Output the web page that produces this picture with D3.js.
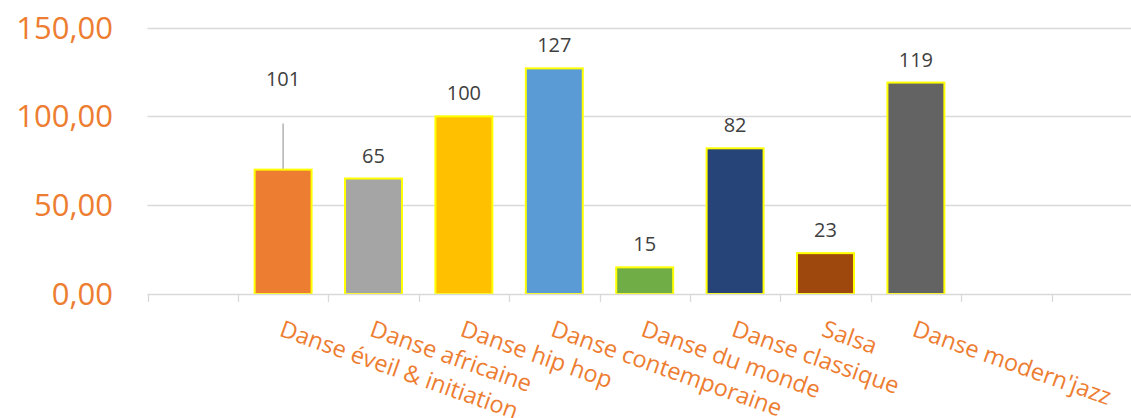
<!DOCTYPE html>
<html>
<head>
<meta charset="utf-8">
<script src="https://cdn.jsdelivr.net/npm/d3@7"></script>
<style>
  html, body { margin: 0; padding: 0; background: #fff; }
  svg { display: block; font-family: "Open Sans", sans-serif; }
</style>
</head>
<body>
<div id="chart"></div>
<script>
// slots on the x axis, the empty ones are blank categories
const categories = ['', 'Danse éveil & initiation', 'Danse africaine', 'Danse hip hop',
  'Danse contemporaine', 'Danse du monde', 'Danse classique', 'Salsa', "Danse modern'jazz", ' ', '  '];
const barNames = ['Danse éveil & initiation', 'Danse africaine', 'Danse hip hop',
  'Danse contemporaine', 'Danse du monde', 'Danse classique', 'Salsa', "Danse modern'jazz"];
const barValues = [70, 65, 100, 127, 15, 82, 23, 119];
const barLabels = ['101', '65', '100', '127', '15', '82', '23', '119'];
const barColors = ['#ED7D31', '#A5A5A5', '#FFC000', '#5B9BD5', '#70AD47', '#264478', '#9E480E', '#636363'];
const yTicks = [0, 50, 100, 150];
// the first label was dragged up in the original, with a leader line
const movedLabel = { index: 0, at: 117, leaderTo: 96 };

const W = 1131, H = 418;
const margin = { top: 27.5, left: 147.5, bottom: 124 };
const plotRight = margin.left + 11 * 90.4;   // plot runs past the picture edge

const svg = d3.select('#chart').append('svg')
  .attr('width', W).attr('height', H);

const x = d3.scaleBand()
  .domain(categories)
  .range([margin.left, plotRight])
  .paddingInner(0.37)
  .paddingOuter(0.185);

const slot = d3.scaleBand()
  .domain(categories)
  .range([margin.left, plotRight]);

const y = d3.scaleLinear()
  .domain([0, 150])
  .range([H - margin.bottom, margin.top]);

const fmt = (d) => d3.format('.2f')(d).replace('.', ',');

// grid
svg.append('g').selectAll('line')
  .data(yTicks.filter(d => d > 0))
  .enter().append('line')
  .attr('x1', margin.left).attr('x2', W)
  .attr('y1', d => Math.round(y(d)) + 0.5).attr('y2', d => Math.round(y(d)) + 0.5)
  .attr('stroke', '#D9D9D9').attr('stroke-width', 1.3);

// y labels
svg.append('g').selectAll('text')
  .data(yTicks)
  .enter().append('text')
  .attr('x', 113).attr('y', d => y(d))
  .attr('dy', '0.36em')
  .attr('text-anchor', 'end')
  .attr('fill', '#ED7D31')
  .style('font-size', '31px')
  .text(fmt);

// bars
const bars = barNames.map((n, i) => ({ name: n, value: barValues[i], label: barLabels[i], color: barColors[i] }));

svg.append('g').selectAll('rect')
  .data(bars)
  .enter().append('rect')
  .attr('x', d => x(d.name))
  .attr('width', x.bandwidth())
  .attr('y', d => y(d.value))
  .attr('height', d => y(0) - y(d.value))
  .attr('fill', d => d.color)
  .attr('stroke', '#FFFF00')
  .attr('stroke-width', 2);

// leader line
const mb = bars[movedLabel.index];
svg.append('line')
  .attr('x1', x(mb.name) + x.bandwidth() / 2).attr('x2', x(mb.name) + x.bandwidth() / 2)
  .attr('y1', y(mb.value) - 1).attr('y2', y(movedLabel.leaderTo))
  .attr('stroke', '#A6A6A6').attr('stroke-width', 1.3);

// value labels
svg.append('g').selectAll('text')
  .data(bars)
  .enter().append('text')
  .attr('x', d => x(d.name) + x.bandwidth() / 2)
  .attr('y', (d, i) => i === movedLabel.index ? y(movedLabel.at) : y(d.value) - 16)
  .attr('text-anchor', 'middle')
  .attr('fill', '#404040')
  .style('font-size', '20px')
  .text(d => d.label);

// x axis
const ax = svg.append('g');
ax.append('line')
  .attr('x1', margin.left).attr('x2', W)
  .attr('y1', y(0) + 0.5).attr('y2', y(0) + 0.5)
  .attr('stroke', '#D9D9D9').attr('stroke-width', 1.3);
ax.selectAll('.tick')
  .data(categories)
  .enter().append('line')
  .attr('x1', d => Math.round(slot(d)) + 0.5).attr('x2', d => Math.round(slot(d)) + 0.5)
  .attr('y1', y(0)).attr('y2', y(0) + 8)
  .attr('stroke', '#D9D9D9').attr('stroke-width', 1.3);

ax.selectAll('.cat')
  .data(categories.filter(c => c.trim() !== ''))
  .enter().append('text')
  .attr('transform', d => `translate(${slot(d) + slot.bandwidth() / 2 + 1}, 319) rotate(19.5)`)
  .attr('dy', '0.75em')
  .attr('fill', '#ED7D31')
  .style('font-size', '23.5px')
  .text(d => d);
</script>
</body>
</html>
